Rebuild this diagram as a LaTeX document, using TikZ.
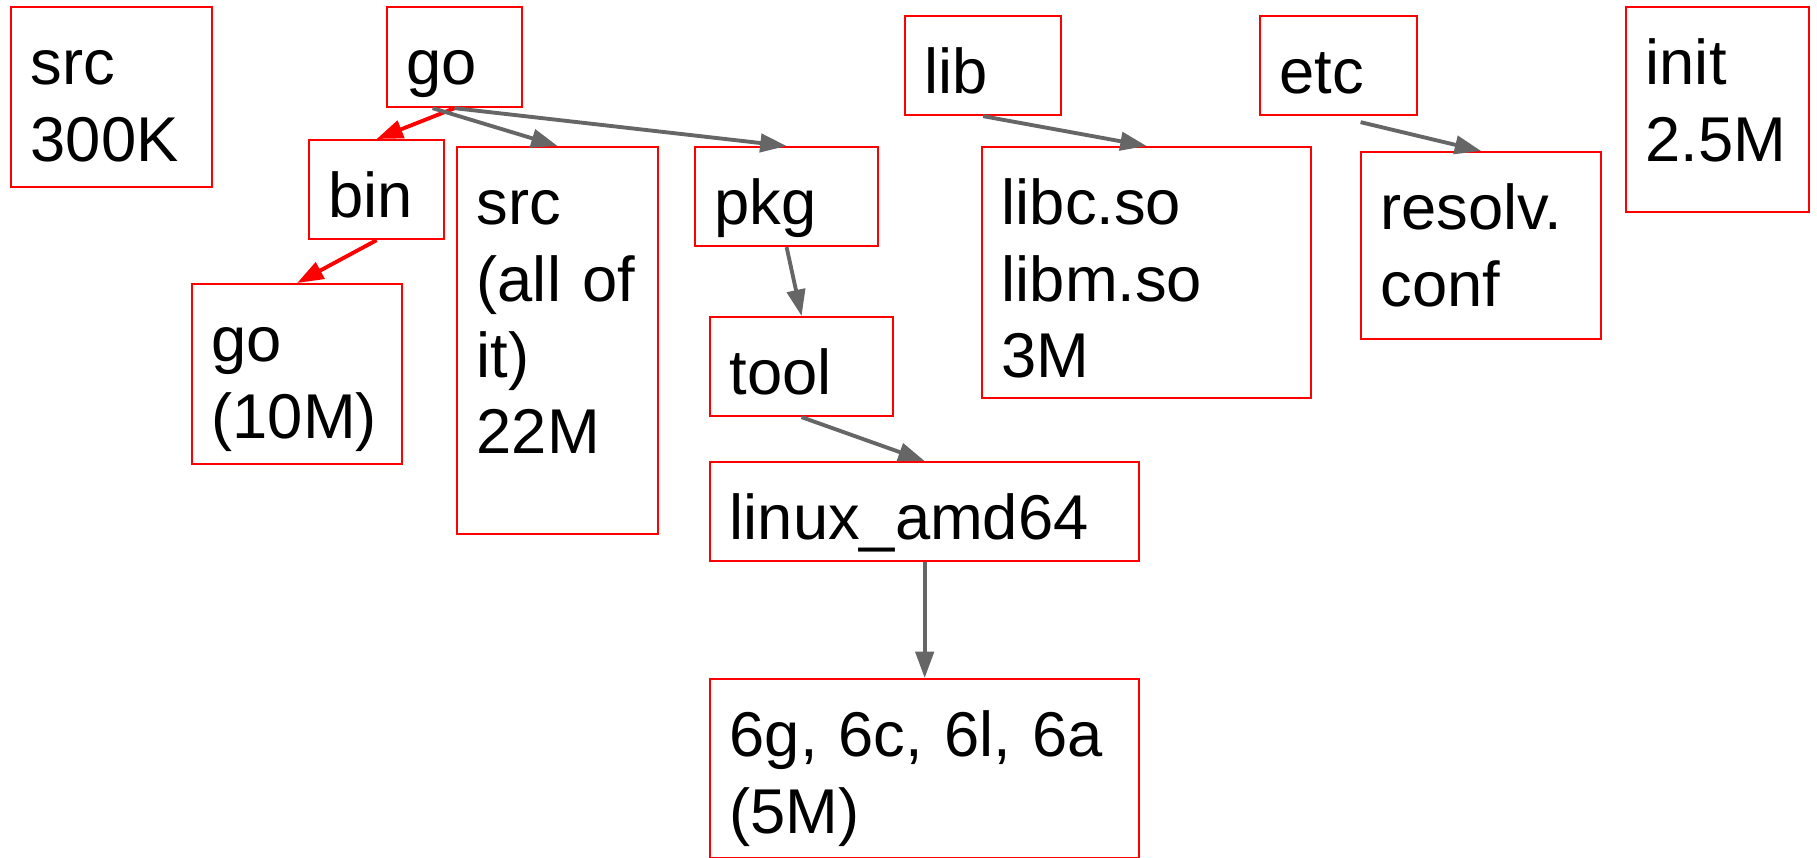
\documentclass[tikz,border=0pt]{standalone}
\usepackage{fontspec}
\setmainfont{Liberation Sans}
\usepackage{xcolor}
\usepackage{tikz}
\usetikzlibrary{arrows.meta}
\definecolor{linkgray}{HTML}{666666}
\tikzset{
  dirbox/.style={
    draw = red,
    line width = 0.6pt,
    anchor = north west,
    inner sep = 0pt
  },
  dirtext/.style={
    anchor = base west,
    inner sep = 0pt,
    text width = 5cm,
    align = left,
    font = \fontsize{18}{21.7}\selectfont
  },
  link/.style={
    draw = linkgray,
    line width = 1.1pt,
    -{Triangle[length=7.5pt,width=5.2pt]}
  },
  redlink/.style={
    link,
    draw = red
  }
}

\begin{document}
\begin{tikzpicture}[x=0.01cm, y=-0.01cm]
  \useasboundingbox (0,0) rectangle (1817,858);
  % boxes
  \node[dirbox, minimum width=2.01cm, minimum height=1.80cm] (srcTop) at (10,6) {};
  \node[dirbox, minimum width=1.35cm, minimum height=1.00cm] (go) at (386,6) {};
  \node[dirbox, minimum width=1.35cm, minimum height=0.99cm] (bin) at (308,139) {};
  \node[dirbox, minimum width=2.01cm, minimum height=3.87cm] (srcAll) at (456,146) {};
  \node[dirbox, minimum width=2.10cm, minimum height=1.80cm] (goBin) at (191,283) {};
  \node[dirbox, minimum width=1.83cm, minimum height=0.99cm] (pkg) at (694,146) {};
  \node[dirbox, minimum width=1.83cm, minimum height=0.99cm] (tool) at (709,316) {};
  \node[dirbox, minimum width=4.29cm, minimum height=0.99cm] (linux) at (709,461) {};
  \node[dirbox, minimum width=4.29cm, minimum height=1.79cm] (compilers) at (709,678) {};
  \node[dirbox, minimum width=1.56cm, minimum height=0.99cm] (lib) at (904,15) {};
  \node[dirbox, minimum width=3.29cm, minimum height=2.51cm] (libc) at (981,146) {};
  \node[dirbox, minimum width=1.57cm, minimum height=0.99cm] (etc) at (1259,15) {};
  \node[dirbox, minimum width=2.40cm, minimum height=1.87cm] (resolv) at (1360,151) {};
  \node[dirbox, minimum width=1.83cm, minimum height=2.05cm] (init) at (1625,6) {};
  % texts
  \node[dirtext] (srcTopT) at ([shift={(20,79)}]srcTop.north west) {src\\300K};
  \node[dirtext] (goT) at ([shift={(20,79)}]go.north west) {go};
  \node[dirtext] (binT) at ([shift={(20,79)}]bin.north west) {bin};
  \node[dirtext] (srcAllT) at ([shift={(20,79)}]srcAll.north west) {src\\(all of\\it)\\22M};
  \node[dirtext] (goBinT) at ([shift={(20,79)}]goBin.north west) {go\\(10M)};
  \node[dirtext] (pkgT) at ([shift={(20,79)}]pkg.north west) {pkg};
  \node[dirtext] (toolT) at ([shift={(20,79)}]tool.north west) {tool};
  \node[dirtext] (linuxT) at ([shift={(20,79)}]linux.north west) {linux\_amd64};
  \node[dirtext] (compilersT) at ([shift={(20,79)}]compilers.north west) {6g, 6c, 6l, 6a\\(5M)};
  \node[dirtext] (libT) at ([shift={(20,79)}]lib.north west) {lib};
  \node[dirtext] (libcT) at ([shift={(20,79)}]libc.north west) {libc.so\\libm.so\\3M};
  \node[dirtext] (etcT) at ([shift={(20,79)}]etc.north west) {etc};
  \node[dirtext] (resolvT) at ([shift={(20,79)}]resolv.north west) {resolv.\\conf};
  \node[dirtext] (initT) at ([shift={(20,79)}]init.north west) {init\\2.5M};
  % links
  \draw[redlink] (go.south) -- (bin.north);
  \draw[redlink] (bin.south) -- (goBin.north);
  \draw[link] ([shift={(-22,0)}]go.south) -- (srcAll.north);
  \draw[link] (go.south) -- (pkg.north);
  \draw[link] (pkg.south) -- (tool.north);
  \draw[link] (tool.south) -- (linux.north);
  \draw[link] (linux.south) -- (compilers.north);
  \draw[link] (lib.south) -- (libc.north);
  \draw[link] ([shift={(22,6)}]etc.south) -- (resolv.north);
\end{tikzpicture}
\end{document}
